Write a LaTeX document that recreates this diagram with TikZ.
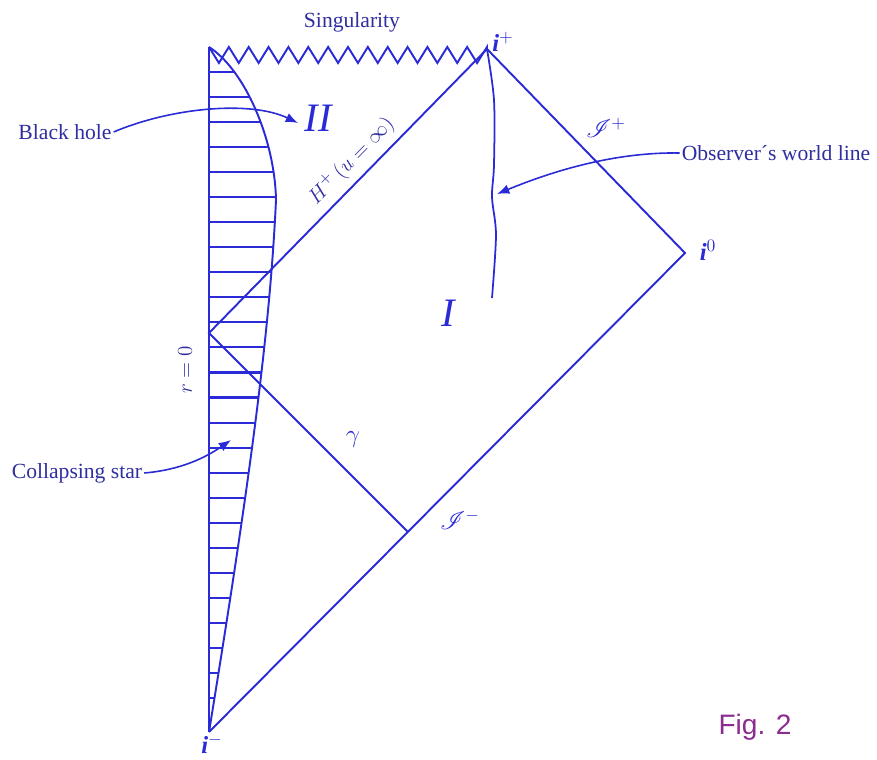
\documentclass[tikz,border=0pt]{standalone}
\usepackage{fontspec}
\setmainfont{Liberation Serif}
\newfontfamily\figfont{Liberation Sans}
\usepackage{amsmath, amssymb}
\usepackage{mathrsfs}
\usetikzlibrary{positioning, calc, arrows.meta}
\definecolor{Ink}{HTML}{2E2EA0}
\definecolor{Line}{HTML}{2A2AD6}
\definecolor{Plum}{HTML}{8B2C8F}
\tikzset{
    diagline/.style={draw=Line, line width=1.1pt},
    hatchline/.style={draw=Line, line width=1.2pt},
    lbl/.style={text=Ink, font=\fontsize{12.3}{14}\selectfont, inner sep=1pt},
    symlbl/.style={text=Line, font=\fontsize{14}{16}\selectfont, inner sep=1pt},
    regionlbl/.style={text=Line, font=\fontsize{23}{25}\selectfont\itshape, inner sep=1pt},
    arrow/.style={-{Latex[length=7pt,width=5.5pt]}, draw=Line, line width=0.9pt},
}

\begin{document}
\begin{tikzpicture}[x=0.02cm, y=-0.02cm]
    \useasboundingbox (0,0) rectangle (877,760);

    % Ecken
    \coordinate (top) at (209,47);
    \coordinate (ip) at (487,49);
    \coordinate (io) at (685,253);
    \coordinate (im) at (209,732);
    \coordinate (bounce) at (209,333);
    \coordinate (meet) at (407,531);

    % Stern (schraffiert)
    \begin{scope}
        \clip (top) .. controls (245,70) and (275,140) .. (276,200)
              .. controls (270,330) and (250,480) .. (im) -- cycle;
        \foreach \k in {0,...,25}
            \draw[hatchline] (200,{72+25.04*\k}) -- (290,{72+25.04*\k});
    \end{scope}
    \draw[diagline] (top) .. controls (245,70) and (275,140) .. (276,200)
          .. controls (270,330) and (250,480) .. (im);

    % r = 0 und Singularitaet
    \draw[diagline] (top) -- (im);
    \draw[diagline] (top) \foreach \k in {0,...,13} {
        -- ({209+19.857*(\k+0.5)},63) -- ({209+19.857*(\k+1)},47) } -- (ip);

    % Rand, Horizont, Lichtstrahl
    \draw[diagline] (im) -- (io) -- (ip) -- (bounce) -- (meet);
    \path (bounce) -- (ip) node[lbl, pos=0.56, sloped, above=3pt] (hor) {$H^{+}\,(u=\infty)$};

    % Weltlinie
    \draw[diagline, line width=1pt] plot[smooth] coordinates {(ip) (494,100) (494,165) (492,197) (496,235) (492,298)};

    % Punkte
    \node[symlbl] (iplbl) at (503,42) {\textbf{\textit{i}}$^{+}$};
    \node[symlbl] (iolbl) at (708,250) {\textbf{\textit{i}}$^{0}$};
    \node[symlbl] (imlbl) at (212,744) {\textbf{\textit{i}}$^{-}$};
    \node[symlbl] (scrip) at (606,128) {$\mathscr{I}^{+}$};
    \node[symlbl] (scrim) at (460,520) {$\mathscr{I}^{-}$};
    \node[symlbl] (gam) at (353,440) {$\gamma$};
    \node[regionlbl] (reg2) at (318,118) {II};
    \node[regionlbl] (reg1) at (448,313) {I};
    \node[lbl, rotate=90] (rzero) at (185,370) {$r=0$};
    \node[lbl] (sing) at (352,22) {Singularity};

    % Beschriftungen mit Pfeil
    \node[lbl] (bh) at (65,132) {Black hole};
    \coordinate (bhtip) at (298,123);
    \draw[arrow] (bh.east) .. controls (170,108) and (250,100) .. (bhtip);

    \node[lbl] (obs) at (776,153) {Observer´s world line};
    \coordinate (obstip) at (497,194);
    \draw[arrow] (obs.west) .. controls (620,152) and (560,168) .. (obstip);

    \node[lbl] (star) at (77,473) {Collapsing star};
    \coordinate (startip) at (231,440);
    \draw[arrow] (star.east) .. controls (180,470) and (205,458) .. (startip);

    \node[text=Plum, font=\figfont\fontsize{16}{18}\selectfont] (fig) at (755,727) {Fig. 2};
\end{tikzpicture}
\end{document}
